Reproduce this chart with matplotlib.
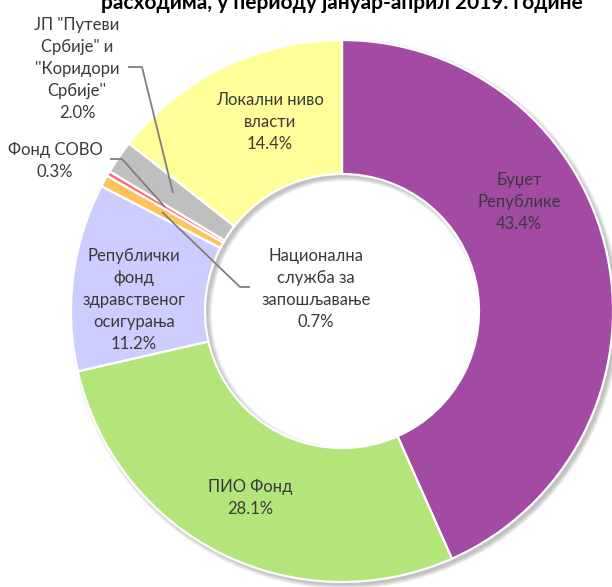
import matplotlib
matplotlib.use("Agg")
import matplotlib.pyplot as plt
from matplotlib.patches import Wedge

# ---- data ----
categories = ["Буџет\nРепублике", "ПИО Фонд", "Републички\nфонд\nздравственог\nосигурања",
              "Национална\nслужба за\nзапошљавање", "Фонд СОВО",
              "ЈП \"Путеви\nСрбије\" и\n''Коридори\nСрбије''", "Локални ниво\nвласти"]
shares = [43.4, 28.1, 11.2, 0.7, 0.3, 2.0, 14.4]
colors = ["#A34AA3", "#B3E57B", "#CCCCFF", "#FFC35A", "#FF6B6B", "#BFBFBF", "#FFFF99"]
title = "Структура јавних расхода по нивоима власти у укупним\nрасходима, у периоду јануар-април 2019. године"

W, H = 612, 587
fig = plt.figure(figsize=(W / 100, H / 100), dpi=100)
ax = fig.add_axes([0, 0, 1, 1])

def P(x, y):
    return (x, H - y)

cx, cy = P(342, 311)
R = 271
ring = 134
txt = "#3A3A3A"
font = ["Lato", "DejaVu Sans"]

# soft shadow
off = (3, -3)
for k in range(6):
    ax.add_patch(Wedge((cx + off[0], cy + off[1]), R + k * 0.8, 0, 360,
                       width=ring + 2 * k * 0.8, facecolor="black", alpha=0.045,
                       edgecolor="none", zorder=1))

wedges, _ = ax.pie(shares, colors=colors, startangle=90, counterclock=False,
                   center=(cx, cy), radius=R,
                   wedgeprops=dict(width=ring, edgecolor="white", linewidth=1.6))
for w in wedges:
    w.set_zorder(2)

ax.set_xlim(0, W)
ax.set_ylim(0, H)
ax.set_aspect("auto")
ax.axis("off")

fs = 12
def label(i, x, y):
    ax.text(*P(x, y), f"{categories[i]}\n{shares[i]:.1f}%", ha="center", va="center",
            fontsize=fs, color=txt, family=font, linespacing=1.45, zorder=5)

label(0, 519, 202)
label(1, 250, 498)
label(2, 134, 300)
label(3, 316, 289)
label(4, 55, 161)
label(5, 77, 69)
label(6, 270, 122)

lc = "#7F7F7F"
def leader(pts):
    xs = [p[0] for p in pts]
    ys = [H - p[1] for p in pts]
    ax.plot(xs, ys, color=lc, lw=1.3, zorder=4, solid_capstyle="butt")

leader([(128, 67), (142, 67), (173, 193)])
leader([(110, 159), (122, 159), (165, 207)])
leader([(250, 287), (240, 287), (162, 212)])

ax.text(*P(342, 9), title, ha="center", va="baseline", fontsize=15, fontweight="bold",
        color="black", family=font, linespacing=1.3, zorder=5)

fig.savefig("out.png", dpi=100)
